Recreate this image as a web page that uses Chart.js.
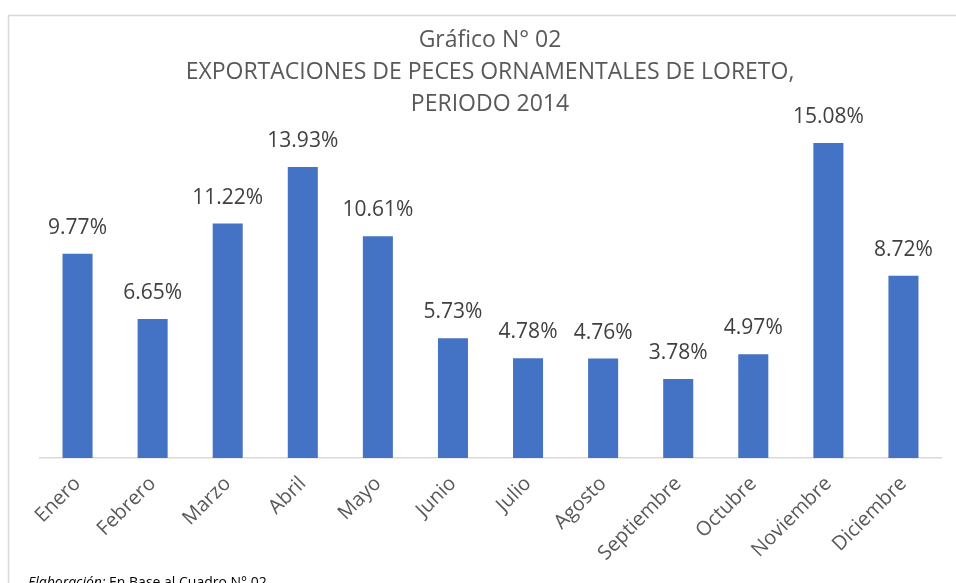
<!DOCTYPE html>
<html lang="es">
<head>
    <meta charset="UTF-8">
    <title>Gráfico N° 02</title>
    <script src="https://cdn.jsdelivr.net/npm/chart.js@4.4.0/dist/chart.umd.min.js"></script>
    <style>
        body { margin: 0; background: #fff; }
        #wrap { width: 956px; height: 583px; position: relative; }
    </style>
</head>
<body>
    <div id="wrap"><canvas id="myChart"></canvas></div>

    <script>
        const meses = ['Enero', 'Febrero', 'Marzo', 'Abril', 'Mayo', 'Junio', 'Julio',
            'Agosto', 'Septiembre', 'Octubre', 'Noviembre', 'Diciembre']
        const porcentajes = [9.77, 6.65, 11.22, 13.93, 10.61, 5.73, 4.78, 4.76, 3.78, 4.97, 15.08, 8.72]
        const titulo = ['Gráfico N° 02', 'EXPORTACIONES DE PECES ORNAMENTALES DE LORETO,', 'PERIODO 2014']

        const fuente = '"Open Sans", "Noto Sans", sans-serif'

        // marco, titulo y nota al pie
        const decoracion = {
            id: 'decoracion',
            beforeDraw(chart) {
                const ctx = chart.ctx
                ctx.save()
                ctx.strokeStyle = '#d9d9d9'
                ctx.lineWidth = 1.5
                ctx.strokeRect(8.5, 15.5, 960, 600)
                ctx.restore()
            },
            afterDraw(chart) {
                const ctx = chart.ctx
                ctx.save()
                ctx.fillStyle = '#595959'
                ctx.textAlign = 'center'
                ctx.textBaseline = 'middle'
                ctx.font = '23px ' + fuente
                titulo.forEach((t, i) => ctx.fillText(t, 490, 40 + i * 32))

                ctx.textAlign = 'left'
                ctx.textBaseline = 'alphabetic'
                ctx.fillStyle = '#000'
                ctx.font = 'italic 14px ' + fuente
                ctx.fillText('Elaboración:', 28, 587)
                const w = ctx.measureText('Elaboración:').width
                ctx.font = '14px ' + fuente
                ctx.fillText(' En Base al Cuadro N° 02', 28 + w, 587)
                ctx.restore()
            },
            afterDatasetsDraw(chart) {
                const ctx = chart.ctx
                const meta = chart.getDatasetMeta(0)
                ctx.save()
                ctx.fillStyle = '#404040'
                ctx.font = '21px ' + fuente
                ctx.textAlign = 'center'
                ctx.textBaseline = 'middle'
                meta.data.forEach((bar, i) => {
                    ctx.fillText(porcentajes[i].toFixed(2) + '%', bar.x, bar.y - 26)
                })
                ctx.restore()
            }
        }

        const ctx = document.getElementById('myChart').getContext('2d')
        const myChart = new Chart(ctx, {
            type: 'bar',
            data: {
                labels: meses,
                datasets: [{
                    data: porcentajes,
                    backgroundColor: '#4472c4',
                    borderWidth: 0,
                    categoryPercentage: 1,
                    barPercentage: 0.4
                }]
            },
            options: {
                responsive: true,
                maintainAspectRatio: false,
                animation: false,
                layout: { padding: { left: 40, right: 15, top: 112, bottom: 0 } },
                plugins: {
                    legend: { display: false },
                    title: { display: false },
                    tooltip: { enabled: false }
                },
                scales: {
                    x: {
                        grid: { display: false, drawTicks: false },
                        border: { display: true, color: '#d9d9d9', width: 1.5 },
                        ticks: {
                            color: '#595959',
                            font: { family: fuente, size: 20 },
                            minRotation: 45,
                            maxRotation: 45,
                            padding: 14
                        },
                        afterFit(scale) { scale.height = 125 }
                    },
                    y: {
                        display: false,
                        min: 0,
                        max: 16.56
                    }
                }
            },
            plugins: [decoracion]
        })
    </script>
</body>
</html>
